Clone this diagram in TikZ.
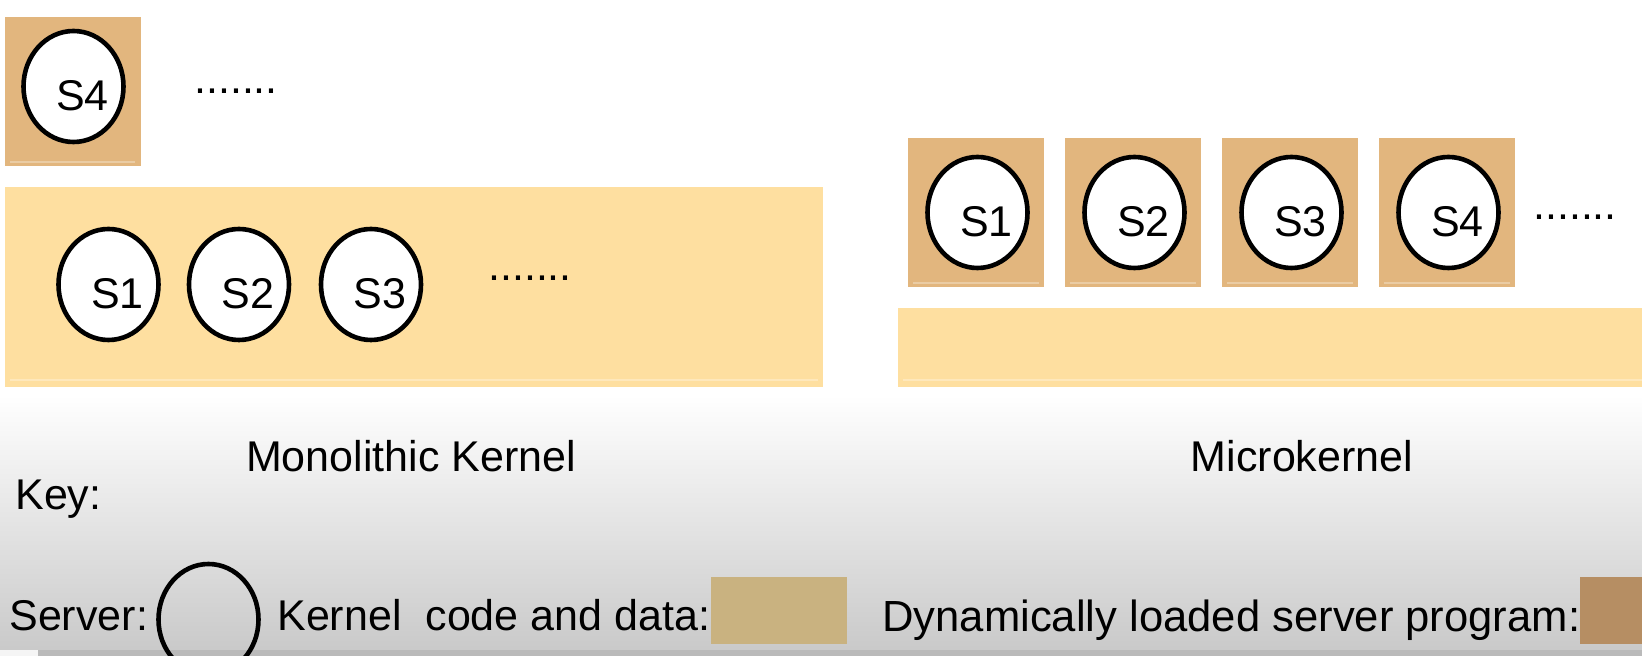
\documentclass[tikz,border=0pt]{standalone}
\usepackage{fontspec}
\setmainfont{Liberation Sans}
\usetikzlibrary{shapes.geometric}

\definecolor{kernelfill}{RGB}{254,223,160}
\definecolor{serverfill}{RGB}{226,182,126}
\definecolor{keykernel}{RGB}{201,178,128}
\definecolor{keyserver}{RGB}{182,142,99}

\tikzset{
  big/.style={font=\fontsize{21.5}{26}\selectfont},
  srv/.style={ellipse, draw=black, line width=2.3pt, fill=white,
    minimum width=50pt, minimum height=55.5pt, inner sep=0pt},
  srvname/.style={big, xshift=4.5pt, yshift=-4.5pt, inner sep=0pt},
  glint/.style={white, opacity=0.3, line width=0.6pt},
}

\begin{document}
\begin{tikzpicture}[x=0.5pt, y=-0.5pt]
    % --- canvas: white slide, grey fade at the bottom ---
    \def\W{1642}
    \def\H{656}
    \useasboundingbox (0,0) rectangle (\W,\H);
    \clip (0,0) rectangle (\W,\H);
    \fill[white] (0,0) rectangle (\W,396);
    \shade[top color=white, bottom color=black!21] (0,395) rectangle (\W,650);
    \fill[black!27] (0,650) rectangle (\W,\H);
    \fill[black!4] (0,650) rectangle (38,\H);

    % size of one server box
    \def\bw{136}
    \def\bh{149}

    % --- MONOLITHIC KERNEL ---
    % loaded server on top
    \fill[serverfill] (5,17) rectangle ++(\bw,\bh);
    \draw[glint] (10,162) -- (135,162);
    \node[srv, label={[srvname]center:S4}] (ms4) at (73.5,86.5) {};
    \node[big, anchor=base] (mdotstop) at (236,94) {.......};

    % kernel with the servers built in
    \fill[kernelfill] (5,187) rectangle (823,387);
    \draw[glint] (10,380) -- (818,380);
    \foreach \i/\x in {1/108.5, 2/239, 3/371}
        \node[srv, label={[srvname]center:S\i}] (ms\i) at (\x,284.5) {};
    \node[big, anchor=base] (mdots) at (530,281) {.......};

    \node[big, anchor=base] (mono) at (411,472) {Monolithic Kernel};

    % --- MICROKERNEL ---
    \foreach \i in {1,...,4} {
        \fill[serverfill] ({908+(\i-1)*157},138) rectangle ++(\bw,\bh);
        \draw[glint] ({913+(\i-1)*157},283) -- ++(126,0);
        \node[srv, label={[srvname]center:S\i}] (us\i) at ({977.5+(\i-1)*157},212.5) {};
    }
    \node[big, anchor=base] (udots) at (1575,220) {.......};

    % small kernel underneath
    \fill[kernelfill] (898,308) rectangle (\W,387);
    \draw[glint] (903,380) -- (\W,380);

    \node[big, anchor=base] (micro) at (1302,472) {Microkernel};

    % --- key ---
    \node[big, anchor=base west, inner sep=0pt] (key) at (15,510) {Key:};
    \node[big, anchor=base west, inner sep=0pt] (srvkey) at (9,631) {Server:};
    \node[srv, fill=none] (srvshape) at (208.5,619.5) {};
    \node[big, anchor=base west, inner sep=0pt] (kernkey) at (277,631) {Kernel\ \ code and data:};
    \fill[keykernel] (711,577) rectangle (847,644);
    \node[font=\fontsize{21.8}{26}\selectfont, anchor=base west, inner sep=0pt] (dynkey) at (882,632) {Dynamically loaded server program:};
    \fill[keyserver] (1580,577) rectangle (\W,644);
\end{tikzpicture}
\end{document}
